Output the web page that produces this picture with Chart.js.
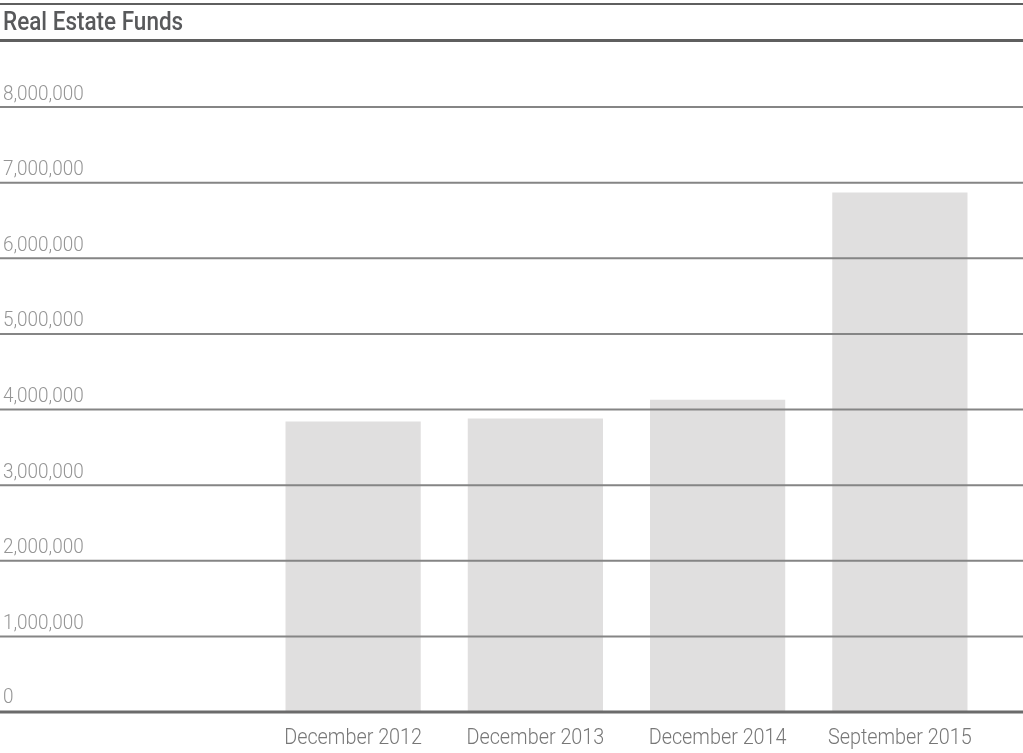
<!DOCTYPE html>
<html>
<head>
<meta charset="utf-8">
<script src="https://cdn.jsdelivr.net/npm/chart.js@4"></script>
<style>
  html, body { margin: 0; padding: 0; background: #ffffff; }
  #wrap { width: 1023px; height: 753px; position: relative; }
</style>
</head>
<body>
<div id="wrap"><canvas id="chart"></canvas></div>
<script>
// Real estate fund assets by reporting date
const categories = ['December 2012', 'December 2013', 'December 2014', 'September 2015'];
const fundValues = [3840000, 3880000, 4130000, 6870000];
const yTickValues = [0, 1000000, 2000000, 3000000, 4000000, 5000000, 6000000, 7000000, 8000000];
const yTickLabels = ['0', '1,000,000', '2,000,000', '3,000,000', '4,000,000', '5,000,000', '6,000,000', '7,000,000', '8,000,000'];
const chartTitle = 'Real Estate Funds';

const FONT = "Roboto, 'Liberation Sans', sans-serif";
const SQUEEZE = 0.9; // horizontal compression for a condensed look

// Draw text squeezed horizontally, anchored at (x, y)
function condensedText(ctx, text, x, y, align) {
  ctx.save();
  ctx.translate(x, y);
  ctx.scale(SQUEEZE, 1);
  ctx.textAlign = align;
  ctx.fillText(text, 0, 0);
  ctx.restore();
}

// Title, full-width rules, value labels and category labels
const fullWidthGrid = {
  id: 'fullWidthGrid',
  afterDatasetsDraw(chart) {
    const { ctx, scales: { x, y } } = chart;
    const w = chart.width;
    ctx.save();
    ctx.textBaseline = 'alphabetic';

    yTickValues.forEach((v, i) => {
      const py = y.getPixelForValue(v);
      ctx.beginPath();
      if (v === 0) {
        ctx.lineWidth = 3;
        ctx.strokeStyle = '#6b6b6b';
      } else {
        ctx.lineWidth = 2;
        ctx.strokeStyle = '#858585';
      }
      ctx.moveTo(0, py);
      ctx.lineTo(w, py);
      ctx.stroke();
      ctx.fillStyle = '#959595';
      ctx.font = '300 21px ' + FONT;
      condensedText(ctx, yTickLabels[i], 3, py - (v === 0 ? 9 : 7.5), 'left');
    });

    // category labels under the baseline
    ctx.fillStyle = '#777777';
    ctx.font = '300 22px ' + FONT;
    categories.forEach((c, i) => {
      condensedText(ctx, c, x.getPixelForValue(i), 744, 'center');
    });

    // title with rules above and below
    ctx.fillStyle = '#58595b';
    ctx.font = '500 25px ' + FONT;
    condensedText(ctx, chartTitle, 3, 30, 'left');
    ctx.strokeStyle = '#5f5f5f';
    ctx.lineWidth = 2;
    ctx.beginPath();
    ctx.moveTo(0, 4); ctx.lineTo(w, 4);
    ctx.stroke();
    ctx.lineWidth = 3;
    ctx.beginPath();
    ctx.moveTo(0, 40.5); ctx.lineTo(w, 40.5);
    ctx.stroke();
    ctx.restore();
  }
};

new Chart(document.getElementById('chart'), {
  type: 'bar',
  data: {
    labels: categories,
    datasets: [{
      data: fundValues,
      backgroundColor: '#e0dfdf',
      borderWidth: 0,
      categoryPercentage: 1,
      barPercentage: 0.742
    }]
  },
  options: {
    responsive: true,
    maintainAspectRatio: false,
    animation: false,
    layout: { padding: { left: 262, right: 32, top: 107, bottom: 0 } },
    plugins: {
      legend: { display: false },
      tooltip: { enabled: false },
      title: { display: false }
    },
    scales: {
      x: {
        grid: { display: false },
        border: { display: false },
        ticks: { display: false },
        afterFit(scale) { scale.height = 41; }
      },
      y: {
        min: 0,
        max: 8000000,
        grid: { display: false },
        border: { display: false },
        ticks: { display: false, stepSize: 1000000 },
        afterFit(scale) { scale.width = 0; }
      }
    }
  },
  plugins: [fullWidthGrid]
});
</script>
</body>
</html>
